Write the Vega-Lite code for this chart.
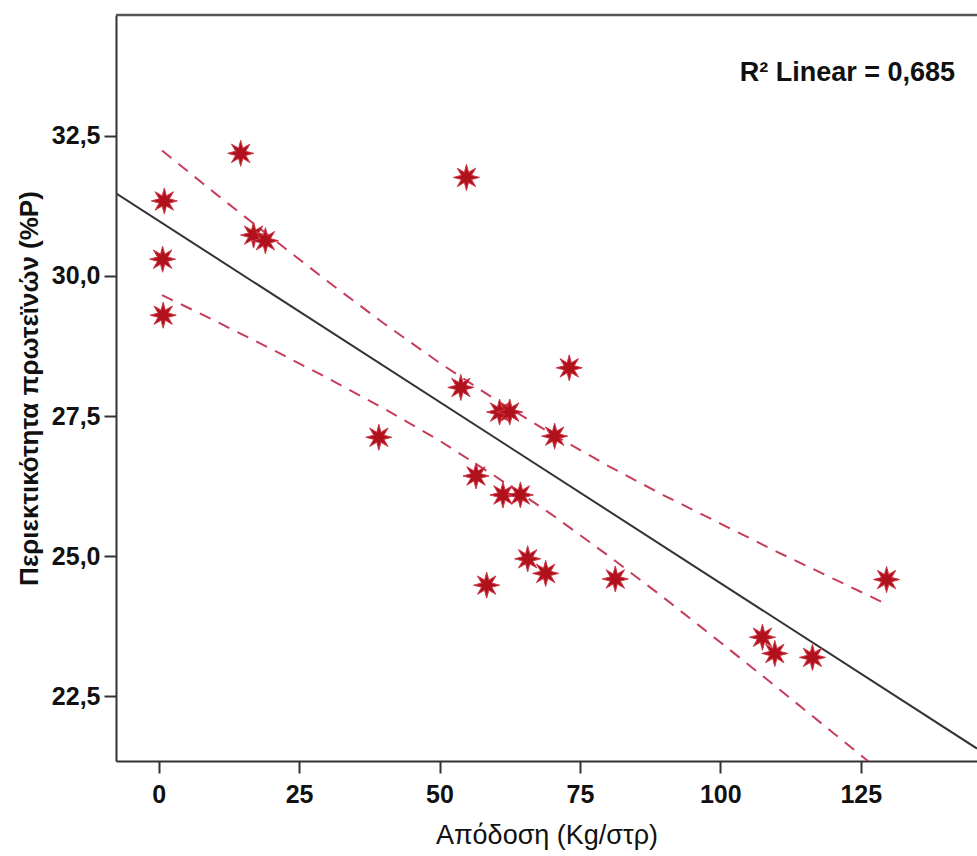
{
  "$schema": "https://vega.github.io/schema/vega-lite/v6.json",
  "width": 861,
  "height": 746,
  "autosize": {"type": "none"},
  "padding": {"left": 116, "top": 15, "right": 0, "bottom": 95},
  "background": "white",
  "config": {
    "view": {"stroke": null},
    "font": "Liberation Sans",
    "axis": {
      "grid": false,
      "domainColor": "#333333",
      "domainWidth": 2,
      "tickColor": "#333333",
      "tickWidth": 2,
      "tickSize": 12,
      "labelFontSize": 25,
      "labelFontWeight": "bold",
      "labelColor": "#111111",
      "labelFlush": false,
      "labelOverlap": false,
      "titleColor": "#111111"
    }
  },
  "datasets": {
    "points": [
      {"yield": 1.0, "protein": 31.34},
      {"yield": 0.7, "protein": 30.30},
      {"yield": 0.8, "protein": 29.30},
      {"yield": 14.6, "protein": 32.19},
      {"yield": 16.9, "protein": 30.73},
      {"yield": 19.0, "protein": 30.63},
      {"yield": 54.8, "protein": 31.76},
      {"yield": 53.8, "protein": 28.01},
      {"yield": 39.2, "protein": 27.12},
      {"yield": 60.7, "protein": 27.57},
      {"yield": 62.5, "protein": 27.57},
      {"yield": 73.1, "protein": 28.36},
      {"yield": 70.5, "protein": 27.14},
      {"yield": 56.5, "protein": 26.43},
      {"yield": 61.3, "protein": 26.09},
      {"yield": 64.4, "protein": 26.09},
      {"yield": 65.7, "protein": 24.95},
      {"yield": 68.9, "protein": 24.69},
      {"yield": 58.4, "protein": 24.48},
      {"yield": 81.3, "protein": 24.59},
      {"yield": 107.5, "protein": 23.55},
      {"yield": 109.7, "protein": 23.26},
      {"yield": 116.4, "protein": 23.19},
      {"yield": 129.6, "protein": 24.58}
    ],
    "ci": [
      {"bound": "upper", "yield": 0.6, "protein": 32.24},
      {"bound": "upper", "yield": 10, "protein": 31.48},
      {"bound": "upper", "yield": 20, "protein": 30.69},
      {"bound": "upper", "yield": 30, "protein": 29.91},
      {"bound": "upper", "yield": 40, "protein": 29.16},
      {"bound": "upper", "yield": 50, "protein": 28.45},
      {"bound": "upper", "yield": 60, "protein": 27.79},
      {"bound": "upper", "yield": 70, "protein": 27.18},
      {"bound": "upper", "yield": 80, "protein": 26.61},
      {"bound": "upper", "yield": 90, "protein": 26.08},
      {"bound": "upper", "yield": 100, "protein": 25.58},
      {"bound": "upper", "yield": 110, "protein": 25.08},
      {"bound": "upper", "yield": 120, "protein": 24.60},
      {"bound": "upper", "yield": 129.6, "protein": 24.14},
      {"bound": "lower", "yield": 0.6, "protein": 29.66},
      {"bound": "lower", "yield": 10, "protein": 29.20},
      {"bound": "lower", "yield": 20, "protein": 28.70},
      {"bound": "lower", "yield": 30, "protein": 28.18},
      {"bound": "lower", "yield": 40, "protein": 27.64},
      {"bound": "lower", "yield": 50, "protein": 27.06},
      {"bound": "lower", "yield": 60, "protein": 26.42},
      {"bound": "lower", "yield": 70, "protein": 25.74},
      {"bound": "lower", "yield": 80, "protein": 25.01},
      {"bound": "lower", "yield": 90, "protein": 24.25},
      {"bound": "lower", "yield": 100, "protein": 23.46},
      {"bound": "lower", "yield": 110, "protein": 22.66},
      {"bound": "lower", "yield": 120, "protein": 21.85},
      {"bound": "lower", "yield": 129.6, "protein": 21.07}
    ],
    "note": [
      {"yield": 141.8, "protein": 33.48, "label": "R² Linear = 0,685"}
    ]
  },
  "layer": [
    {
      "data": {"name": "points"},
      "transform": [{"regression": "protein", "on": "yield", "extent": [-7.6, 145.7]}],
      "mark": {"type": "line", "color": "#333333", "strokeWidth": 2, "clip": true},
      "encoding": {
        "x": {
          "field": "yield",
          "type": "quantitative",
          "scale": {"domain": [-7.6, 145.7], "nice": false, "zero": false},
          "axis": {
            "values": [0, 25, 50, 75, 100, 125],
            "format": "d",
            "title": "Απόδοση (Kg/στρ)",
            "titleFontSize": 27,
            "titleFontWeight": "normal",
            "labelPadding": 9,
            "titlePadding": 15
          }
        },
        "y": {
          "field": "protein",
          "type": "quantitative",
          "scale": {"domain": [21.34, 34.66], "nice": false, "zero": false},
          "axis": {
            "values": [22.5, 25, 27.5, 30, 32.5],
            "labelExpr": "replace(format(datum.value, '.1f'), '.', ',')",
            "title": "Περιεκτικότητα πρωτεϊνών (%P)",
            "titleFontSize": 26,
            "titleFontWeight": "bold",
            "labelPadding": 4,
            "titlePadding": 9
          }
        }
      }
    },
    {
      "data": {"name": "ci"},
      "mark": {"type": "line", "color": "#c63d5a", "strokeWidth": 2, "strokeDash": [12, 9], "clip": true},
      "encoding": {
        "x": {"field": "yield", "type": "quantitative"},
        "y": {"field": "protein", "type": "quantitative"},
        "detail": {"field": "bound", "type": "nominal"}
      }
    },
    {
      "data": {"name": "points"},
      "mark": {
        "type": "point",
        "shape": "M1,0L0.388,0.161L0.707,0.707L0.161,0.388L0,1L-0.161,0.388L-0.707,0.707L-0.388,0.161L-1,0L-0.388,-0.161L-0.707,-0.707L-0.161,-0.388L0,-1L0.161,-0.388L0.707,-0.707L0.388,-0.161Z",
        "filled": true,
        "size": 680,
        "color": "#b0111b",
        "stroke": "#cc3a48",
        "strokeWidth": 1,
        "opacity": 1
      },
      "encoding": {
        "x": {"field": "yield", "type": "quantitative"},
        "y": {"field": "protein", "type": "quantitative"}
      }
    },
    {
      "data": {"values": [{}]},
      "mark": {"type": "rule", "color": "#555555", "strokeWidth": 2.5},
      "encoding": {"y": {"datum": 34.66}}
    },
    {
      "data": {"name": "note"},
      "mark": {"type": "text", "align": "right", "baseline": "alphabetic", "fontSize": 27, "fontWeight": "bold", "color": "#111111"},
      "encoding": {
        "x": {"field": "yield", "type": "quantitative"},
        "y": {"field": "protein", "type": "quantitative"},
        "text": {"field": "label"}
      }
    }
  ]
}
